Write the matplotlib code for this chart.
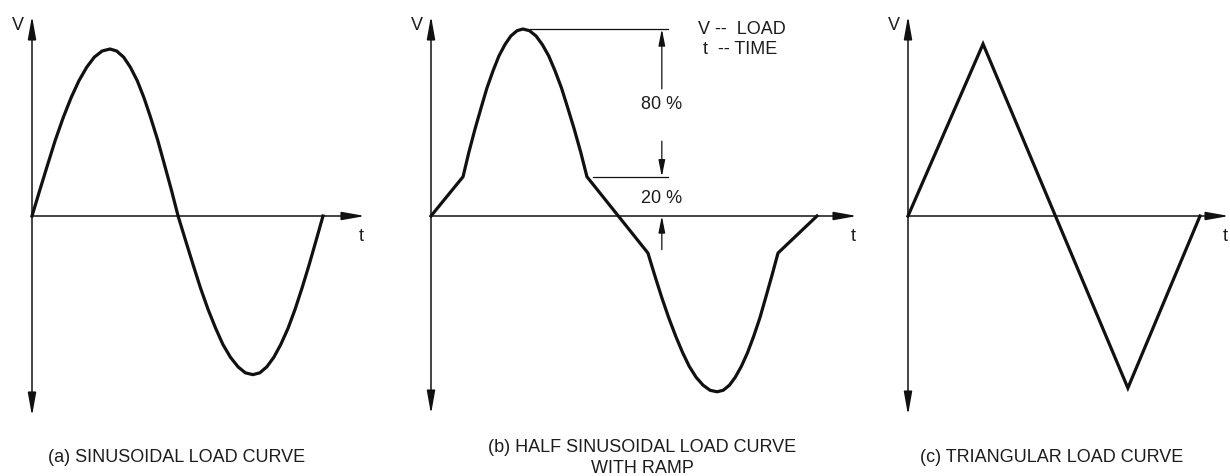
# Load curve types: sinusoidal, half-sinusoidal with ramp, triangular
import matplotlib
matplotlib.use("Agg")
import matplotlib.pyplot as plt

plt.rcParams["font.family"] = ["Liberation Sans", "DejaVu Sans"]

INK = "#111111"
TXT = "#1c1c1c"

# ---- data (t in % of one cycle, V relative to positive peak) ----
sine_t = [0, 2.7, 5.4, 8.0, 10.7, 13.4, 16.1, 18.8, 21.4, 24.1, 26.8,
          29.1, 31.5, 33.8, 36.2, 38.5, 40.8, 43.2, 45.5, 47.9, 50.2,
          52.8, 55.4, 57.9, 60.5, 63.1, 65.6, 68.2, 70.8, 73.3, 75.9,
          78.3, 80.7, 83.1, 85.5, 88.0, 90.4, 92.8, 95.2, 97.6, 100]
sine_v = [0, .156, .309, .454, .588, .707, .809, .891, .951, .988, 1.0,
          .988, .951, .891, .809, .707, .588, .454, .309, .156, 0,
          -.148, -.294, -.431, -.559, -.672, -.769, -.846, -.903, -.939, -.95,
          -.939, -.903, -.846, -.769, -.672, -.559, -.431, -.294, -.148, 0]

ramp_t = [0.0, 8.3, 9.8, 11.4, 13.0, 14.5, 16.1, 17.6, 19.2, 20.7, 22.3, 23.8,
          25.5, 27.2, 28.8, 30.5, 32.1, 33.8, 35.4, 37.1, 38.8, 40.4,
          56.2, 58.0, 59.8, 61.6, 63.4, 65.2, 66.9, 68.7, 70.5, 72.3, 74.1,
          75.7, 77.3, 78.8, 80.4, 82.0, 83.6, 85.2, 86.7, 88.3, 89.9, 100.0]
ramp_v = [0, .210, .340, .465, .580, .685, .778, .856, .918, .963, .991, 1.0,
          .991, .963, .918, .856, .778, .685, .580, .465, .340, .210,
          -.198, -.320, -.437, -.545, -.643, -.731, -.804, -.863, -.905, -.932, -.940,
          -.932, -.905, -.863, -.804, -.731, -.643, -.545, -.437, -.320, -.198, 0]

tri_t = [0, 25.7, 75.3, 100]
tri_v = [0, 1.0, -1.0, 0]

ramp_level = 0.21
captions = ["(a) SINUSOIDAL LOAD CURVE",
            "(b) HALF SINUSOIDAL LOAD CURVE\nWITH RAMP",
            "(c) TRIANGULAR LOAD CURVE"]

# ---- layout (pixels of a 1230 x 477 canvas) ----
W, H = 1230, 477
# column left/right, origin x, origin y, px per cycle, px per unit V, x-axis tip, y tips
layout = [
    dict(l=0, r=400, x0=32, y0=217, per=291, amp=167, xtip=365, ytop=17, ybot=417),
    dict(l=400, r=880, x0=431, y0=217, per=386, amp=187, xtip=857, ytop=17, ybot=415),
    dict(l=880, r=1230, x0=908, y0=217, per=292, amp=172, xtip=1229, ytop=17, ybot=416),
]

fig = plt.figure(figsize=(12.3, 4.77), dpi=100)

axes_head = "-|>,head_length=1.4,head_width=0.25"
axes_head2 = "<|-|>,head_length=1.4,head_width=0.25"


def make_panel(p):
    ax = fig.add_axes([p["l"] / W, 0, (p["r"] - p["l"]) / W, 1])
    sx = p["per"] / 100.0
    sy = p["amp"]
    ax.set_xlim((p["l"] - p["x0"]) / sx, (p["r"] - p["x0"]) / sx)
    ax.set_ylim((p["y0"] - H) / sy, p["y0"] / sy)
    ax.axis("off")
    # axes with arrows
    xt = (p["xtip"] - p["x0"]) / sx
    yt = (p["y0"] - p["ytop"]) / sy
    yb = (p["y0"] - p["ybot"]) / sy
    ax.annotate("", xy=(xt, 0), xytext=(0, 0),
                arrowprops=dict(arrowstyle=axes_head, mutation_scale=10,
                                lw=1.1, color=INK, shrinkA=0, shrinkB=0))
    ax.annotate("", xy=(0, yt), xytext=(0, yb),
                arrowprops=dict(arrowstyle=axes_head2, mutation_scale=10,
                                lw=1.1, color=INK, shrinkA=0, shrinkB=0))
    # V and t labels
    fig.text((p["x0"] - 14) / W, 1 - 25 / H, "V", fontsize=13, color=TXT,
             ha="center", va="center")
    fig.text((p["xtip"] - 4) / W, 1 - 237 / H, "t", fontsize=13, color=TXT,
             ha="center", va="center")
    return ax


ax_a = make_panel(layout[0])
ax_a.plot(sine_t, sine_v, color=INK, lw=2.3, solid_joinstyle="round")

ax_b = make_panel(layout[1])
ax_b.plot(ramp_t, ramp_v, color=INK, lw=2.3, solid_joinstyle="round")

ax_c = make_panel(layout[2])
ax_c.plot(tri_t, tri_v, color=INK, lw=2.3, solid_joinstyle="miter")

# dimension lines on panel (b)
dim_x = 59.8
ax_b.plot([25.6, 61.4], [1.0, 1.0], color=INK, lw=0.9)
ax_b.plot([42.0, 61.4], [ramp_level, ramp_level], color=INK, lw=0.9)
dim_head = "-|>,head_length=1.0,head_width=0.2"
ax_b.annotate("", xy=(dim_x, 1.0), xytext=(dim_x, 0.68),
              arrowprops=dict(arrowstyle=dim_head, mutation_scale=10,
                              lw=0.9, color=INK, shrinkA=0, shrinkB=0))
ax_b.annotate("", xy=(dim_x, ramp_level), xytext=(dim_x, 0.40),
              arrowprops=dict(arrowstyle=dim_head, mutation_scale=10,
                              lw=0.9, color=INK, shrinkA=0, shrinkB=0))
ax_b.annotate("", xy=(dim_x, 0), xytext=(dim_x, -0.18),
              arrowprops=dict(arrowstyle=dim_head, mutation_scale=10,
                              lw=0.9, color=INK, shrinkA=0, shrinkB=0))
ax_b.text(dim_x, 0.60, "80 %", fontsize=13, color=TXT, ha="center", va="center")
ax_b.text(dim_x, 0.10, "20 %", fontsize=13, color=TXT, ha="center", va="center")

# legend text
fig.text(698 / W, 1 - 29 / H, "V --  LOAD", fontsize=13, color=TXT, ha="left", va="center")
fig.text(703 / W, 1 - 50 / H, "t  -- TIME", fontsize=13, color=TXT, ha="left", va="center")

# captions
fig.text(177 / W, 1 - 458 / H, captions[0], fontsize=13, color=TXT, ha="center", va="center")
fig.text(642 / W, 1 - 458 / H, captions[1], fontsize=13, color=TXT, ha="center",
         va="center", linespacing=1.3)
fig.text(1052 / W, 1 - 458 / H, captions[2], fontsize=13, color=TXT, ha="center", va="center")

fig.savefig("out.png", dpi=100, facecolor="white")
